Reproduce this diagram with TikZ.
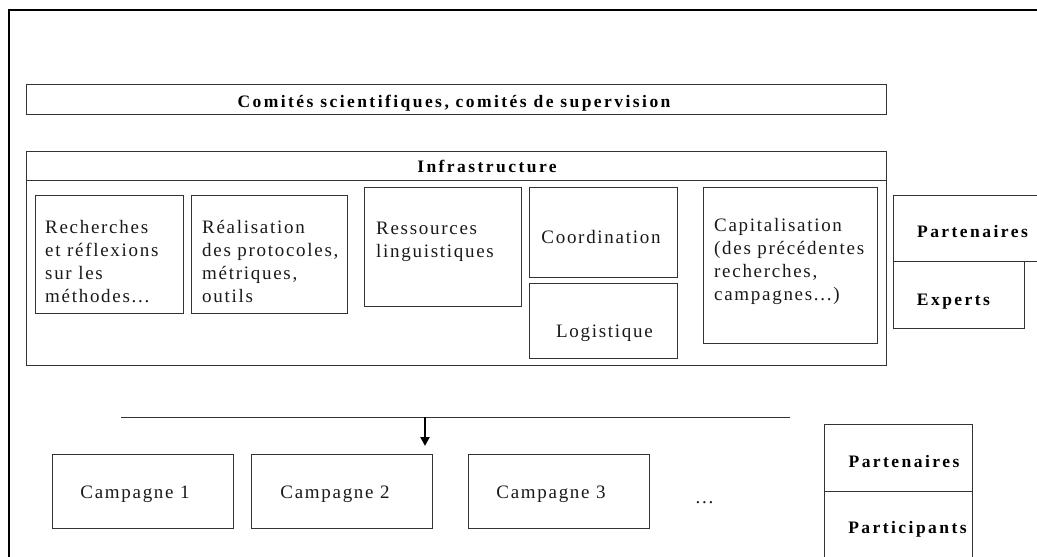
\documentclass[tikz,border=0pt]{standalone}
\usepackage{fontspec}
\setmainfont{Liberation Serif}
\newfontfamily\regf{Liberation Serif}[LetterSpace=9]
\newfontfamily\boldf{Liberation Serif}[LetterSpace=14]
\usetikzlibrary{arrows.meta}
\begin{document}
\begin{tikzpicture}[x=1pt,y=-1pt,
  box/.style={draw=black!80,line width=1pt,inner sep=0pt},
  reg/.style={inner sep=0pt,text=black!90,font=\regf\fontsize{19}{23}\selectfont},
  bld/.style={inner sep=0pt,text=black,font=\boldf\bfseries\fontsize{17.5}{20}\selectfont},
  frame/.style={line width=2pt,black},
  conn/.style={line width=1pt,black!80}]
\useasboundingbox (0,0) rectangle (1037,557);
\clip (0,0) rectangle (1037,557);
% outer frame
\coordinate (fbl) at (9,570);
\coordinate (ftl) at (9,10);
\coordinate (ftr) at (1050,10);
\draw[frame] (fbl) -- (ftl) -- (ftr);
% committees
\node[box,minimum width=860pt,minimum height=30pt,anchor=north west] (com) at (26,84) {};
\node[bld,anchor=base] (comt) at (454,107.5) {Comités scientifiques, comités de supervision};
% infrastructure
\node[box,minimum width=860pt,minimum height=214pt,anchor=north west] (infra) at (26,151) {};
\coordinate (hl) at (26,180);
\coordinate (hr) at (886,180);
\draw[box] (hl) -- (hr);
\node[bld,anchor=base] (infrat) at (487,172) {Infrastructure};
% inner boxes
\node[box,minimum width=148pt,minimum height=118pt,anchor=north west] (b1) at (35,195) {};
\node[reg,anchor=base west,align=left] (b1t) at (45,302) {Recherches\\et réflexions\\sur les\\méthodes...};
\node[box,minimum width=156pt,minimum height=118pt,anchor=north west] (b2) at (191,195) {};
\node[reg,anchor=base west,align=left] (b2t) at (202,302.5) {Réalisation\\des protocoles,\\métriques,\\outils};
\node[box,minimum width=157pt,minimum height=119pt,anchor=north west] (b3) at (364,187) {};
\node[reg,anchor=base west,align=left] (b3t) at (376,257) {Ressources\\linguistiques};
\node[box,minimum width=148pt,minimum height=90pt,anchor=north west] (coord) at (529,187) {};
\node[reg,anchor=base] (coordt) at (601,243) {Coordination};
\node[box,minimum width=148pt,minimum height=75pt,anchor=north west] (logi) at (529,283) {};
\node[reg,anchor=base] (logit) at (604.5,337) {Logistique};
\node[box,minimum width=174pt,minimum height=156pt,anchor=north west] (capi) at (703,187) {};
\node[reg,anchor=base west,align=left] (capit) at (714,300) {Capitalisation\\(des précédentes\\recherches,\\campagnes...)};
% right side
\node[box,minimum width=160pt,minimum height=66pt,anchor=north west] (part1) at (893,195) {};
\node[bld,anchor=base] (part1t) at (972.5,237) {Partenaires};
\node[box,minimum width=131pt,minimum height=67pt,anchor=north west] (exp) at (893,261) {};
\node[bld,anchor=base] (expt) at (953.5,305) {Experts};
% distribution line and arrow
\coordinate (ll) at (121,417);
\coordinate (lr) at (790,417);
\coordinate (lm) at (425,417);
\draw[conn] (ll) -- (lr);
% campaigns
\node[box,minimum width=181pt,minimum height=74pt,anchor=north west] (c1) at (52,454) {};
\node[reg,anchor=base] (c1t) at (135,498) {Campagne 1};
\node[box,minimum width=181pt,minimum height=74pt,anchor=north west] (c2) at (251,454) {};
\node[reg,anchor=base] (c2t) at (335,498) {Campagne 2};
\node[box,minimum width=181pt,minimum height=74pt,anchor=north west] (c3) at (468,454) {};
\node[reg,anchor=base] (c3t) at (551,498) {Campagne 3};
\coordinate (c2top) at (425,454);
\draw[line width=2pt,-{Triangle[width=9pt,length=9pt]}] (lm) -- ([yshift=8pt]c2top);
\node[reg,anchor=base] (dots) at (704.5,503) {...};
\node[box,minimum width=148pt,minimum height=67pt,anchor=north west] (part2) at (824,424) {};
\node[bld,anchor=base] (part2t) at (904,467) {Partenaires};
\node[box,minimum width=148pt,minimum height=80pt,anchor=north west] (partic) at (824,491) {};
\node[bld,anchor=base] (partict) at (907.5,533) {Participants};
\end{tikzpicture}
\end{document}
